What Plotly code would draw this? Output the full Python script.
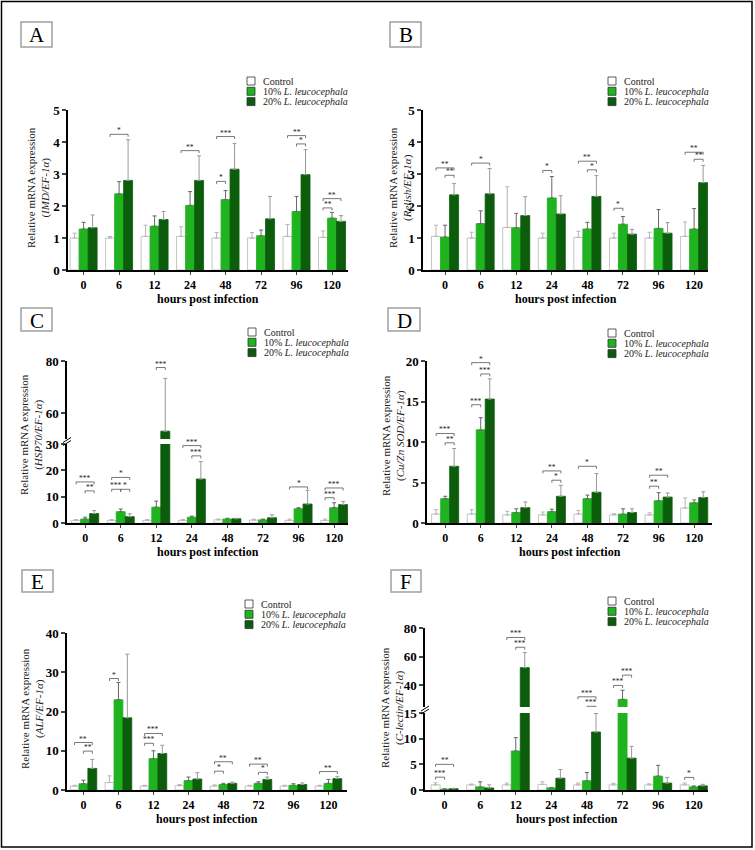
import plotly.graph_objects as go

W, H = 755, 850

hours = ["0", "6", "12", "24", "48", "72", "96", "120"]
groups = ["Control", "10% <i>L. leucocephala</i>", "20% <i>L. leucocephala</i>"]
positions = list(range(len(hours)))

# A: IMD
imd_ctrl = [1.0, 1.0, 1.05, 1.05, 1.0, 1.0, 1.05, 1.02]
imd_ctrl_err = [0.15, 0.05, 0.35, 0.3, 0.17, 0.17, 0.37, 0.2]
imd_10 = [1.28, 2.38, 1.37, 2.02, 2.2, 1.07, 1.83, 1.62]
imd_10_err = [0.21, 0.38, 0.32, 0.43, 0.28, 0.18, 0.47, 0.18]
imd_20 = [1.32, 2.8, 1.58, 2.8, 3.15, 1.6, 2.98, 1.52]
imd_20_err = [0.4, 1.27, 0.25, 0.77, 0.8, 0.7, 0.78, 0.18]

# B: Relish
relish_ctrl = [1.05, 1.0, 1.33, 1.0, 1.02, 1.0, 1.0, 1.05]
relish_ctrl_err = [0.35, 0.18, 1.27, 0.15, 0.19, 0.15, 0.18, 0.45]
relish_10 = [1.03, 1.45, 1.32, 2.25, 1.28, 1.43, 1.3, 1.28]
relish_10_err = [0.37, 0.4, 0.45, 0.67, 0.21, 0.24, 0.59, 0.64]
relish_20 = [2.35, 2.38, 1.7, 1.75, 2.3, 1.12, 1.15, 2.73]
relish_20_err = [0.35, 0.79, 0.59, 0.57, 0.65, 0.15, 0.33, 0.54]

# C: HSP70
hsp_ctrl = [1.0, 1.0, 1.0, 1.0, 1.2, 1.1, 1.0, 1.0]
hsp_ctrl_err = [0.3, 0.3, 0.3, 0.3, 0.3, 0.3, 0.5, 0.5]
hsp_10 = [1.5, 4.3, 6.0, 2.2, 1.5, 1.2, 5.4, 5.8]
hsp_10_err = [0.7, 1.0, 2.3, 0.4, 0.3, 0.3, 0.4, 1.9]
hsp_20 = [3.6, 2.4, 53.0, 16.7, 1.6, 2.0, 7.2, 7.0]
hsp_20_err = [1.1, 1.1, 20.3, 6.6, 0.2, 1.1, 5.2, 1.2]

# D: Cu/Zn SOD
sod_ctrl = [1.1, 1.1, 1.0, 1.0, 1.1, 1.0, 1.0, 1.85]
sod_ctrl_err = [0.55, 0.55, 0.45, 0.35, 0.45, 0.15, 0.25, 1.25]
sod_10 = [3.0, 11.5, 1.3, 1.4, 3.0, 1.1, 2.75, 2.5]
sod_10_err = [0.3, 1.5, 0.45, 0.3, 0.45, 0.65, 1.0, 0.35]
sod_20 = [7.0, 15.3, 1.9, 3.3, 3.8, 1.3, 3.2, 3.15]
sod_20_err = [2.2, 2.5, 0.7, 1.35, 2.3, 0.45, 0.5, 0.7]

# E: ALF
alf_ctrl = [1.0, 1.9, 1.0, 1.1, 1.0, 1.0, 1.0, 1.0]
alf_ctrl_err = [0.2, 1.7, 0.2, 0.3, 0.3, 0.2, 0.2, 0.2]
alf_10 = [1.6, 23.0, 8.0, 2.4, 1.4, 1.7, 1.2, 1.7]
alf_10_err = [0.9, 4.4, 2.0, 0.9, 0.3, 0.4, 0.4, 1.0]
alf_20 = [5.5, 18.4, 9.3, 2.8, 1.7, 2.7, 1.4, 2.9]
alf_20_err = [2.3, 16.2, 2.1, 1.6, 0.3, 0.6, 0.4, 0.5]

# F: C-lectin
lec_ctrl = [1.0, 1.0, 1.0, 1.1, 1.0, 1.0, 1.0, 1.0]
lec_ctrl_err = [0.4, 0.15, 0.35, 0.5, 0.35, 0.3, 0.2, 0.35]
lec_10 = [0.15, 0.6, 7.6, 0.4, 1.8, 30.3, 2.7, 0.6]
lec_10_err = [0.08, 1.0, 2.6, 0.1, 1.6, 6.4, 2.1, 0.2]
lec_20 = [0.25, 0.4, 52.4, 2.3, 11.3, 6.2, 1.35, 0.8]
lec_20_err = [0.08, 0.6, 10.5, 1.7, 3.6, 2.3, 1.1, 0.3]

# significance brackets: (time index, first group, second group, level, stars)
imd_sig = [(1, 0, 2, 4.24, "*"), (3, 0, 2, 3.73, "**"), (4, 0, 1, 2.77, "*"),
           (4, 0, 2, 4.17, "***"), (6, 0, 2, 4.2, "**"), (6, 1, 2, 3.94, "*"),
           (7, 0, 1, 1.94, "**"), (7, 0, 2, 2.23, "**")]
relish_sig = [(0, 0, 2, 3.19, "**"), (0, 1, 2, 2.96, "**"), (1, 0, 2, 3.34, "*"),
              (3, 0, 1, 3.11, "*"), (4, 0, 2, 3.40, "**"), (4, 1, 2, 3.13, "*"),
              (5, 0, 1, 1.93, "*"), (7, 0, 2, 3.68, "**"), (7, 1, 2, 3.46, "**")]
hsp_sig = [(0, 0, 2, 15.6, "***"), (0, 1, 2, 12.2, "**"), (1, 0, 2, 17.3, "*"),
           (1, 0, 1, 12.8, "***"), (1, 1, 2, 12.8, "*"), (2, 0, 2, 81.0, "***"),
           (2, 1, 2, 77.5, "***"), (3, 0, 2, 29.4, "***"), (3, 1, 2, 25.5, "***"),
           (6, 0, 2, 13.7, "*"), (7, 0, 2, 13.3, "***"), (7, 0, 1, 9.6, "***")]
sod_sig = [(0, 0, 2, 11.05, "***"), (0, 1, 2, 9.9, "**"), (1, 0, 2, 19.8, "*"),
           (1, 1, 2, 18.4, "***"), (1, 0, 1, 14.6, "***"), (3, 0, 2, 6.43, "**"),
           (3, 1, 2, 5.28, "*"), (4, 0, 2, 7.0, "*"), (6, 0, 2, 5.9, "**"),
           (6, 0, 1, 4.54, "**")]
alf_sig = [(0, 0, 2, 12.1, "**"), (0, 1, 2, 9.9, "**"), (1, 0, 1, 28.4, "*"),
           (2, 0, 2, 14.4, "***"), (2, 0, 1, 11.9, "***"), (4, 0, 2, 7.2, "**"),
           (4, 0, 1, 4.8, "*"), (5, 0, 2, 6.6, "**"), (5, 1, 2, 4.5, "*"),
           (7, 0, 2, 4.7, "**")]
lec_sig = [(0, 0, 2, 5.0, "**"), (0, 0, 1, 2.5, "***"), (2, 0, 2, 73.4, "***"),
           (2, 1, 2, 66.6, "***"), (4, 0, 2, 32.1, "***"), (4, 1, 2, 25.5, "***"),
           (5, 0, 1, 40.0, "***"), (5, 1, 2, 47.2, "***"), (7, 0, 1, 2.45, "*")]

panels = [
    dict(tag="A", gene="IMD/EF-1α", sig=imd_sig,
         means=[imd_ctrl, imd_10, imd_20], errs=[imd_ctrl_err, imd_10_err, imd_20_err],
         low=(0, 5), low_ticks=[0, 1, 2, 3, 4, 5], up=None, up_ticks=None),
    dict(tag="B", gene="Relish/EF-1α", sig=relish_sig,
         means=[relish_ctrl, relish_10, relish_20],
         errs=[relish_ctrl_err, relish_10_err, relish_20_err],
         low=(0, 5), low_ticks=[0, 1, 2, 3, 4, 5], up=None, up_ticks=None),
    dict(tag="C", gene="HSP70/EF-1α", sig=hsp_sig,
         means=[hsp_ctrl, hsp_10, hsp_20], errs=[hsp_ctrl_err, hsp_10_err, hsp_20_err],
         low=(0, 30), low_ticks=[0, 10, 20, 30], up=(50, 80), up_ticks=[60, 80]),
    dict(tag="D", gene="Cu/Zn SOD/EF-1α", sig=sod_sig,
         means=[sod_ctrl, sod_10, sod_20], errs=[sod_ctrl_err, sod_10_err, sod_20_err],
         low=(0, 20), low_ticks=[0, 5, 10, 15, 20], up=None, up_ticks=None),
    dict(tag="E", gene="ALF/EF-1α", sig=alf_sig,
         means=[alf_ctrl, alf_10, alf_20], errs=[alf_ctrl_err, alf_10_err, alf_20_err],
         low=(0, 40), low_ticks=[0, 10, 20, 30, 40], up=None, up_ticks=None),
    dict(tag="F", gene="C-lectin/EF-1α", sig=lec_sig,
         means=[lec_ctrl, lec_10, lec_20], errs=[lec_ctrl_err, lec_10_err, lec_20_err],
         low=(0, 15), low_ticks=[0, 5, 10, 15], up=(25, 80), up_ticks=[40, 60, 80]),
]

# pixel geometry of each panel
GEOM = {
    "A": dict(x=(68, 348), xr=(-0.44, 7.45), low=(270, 110), up=None,
              box=(21, 22, 52, 47), leg=(247, 81), ytitle=(38, 188)),
    "B": dict(x=(423, 708), xr=(-0.62, 7.39), low=(270, 110), up=None,
              box=(390, 22, 421, 47), leg=(608, 81), ytitle=(400, 188)),
    "C": dict(x=(67, 348), xr=(-0.51, 7.39), low=(523, 444), up=(439, 361),
              box=(21, 308, 52, 331), leg=(248, 332), ytitle=(31, 434)),
    "D": dict(x=(427, 712), xr=(-0.51, 7.5), low=(523, 361), up=None,
              box=(388, 308, 420, 331), leg=(608, 333), ytitle=(393, 436)),
    "E": dict(x=(67, 347), xr=(-0.47, 7.53), low=(790, 633), up=None,
              box=(22, 570, 53, 592), leg=(245, 604), ytitle=(32, 709)),
    "F": dict(x=(425, 708), xr=(-0.55, 7.4), low=(790, 713), up=(707, 628),
              box=(391, 570, 421, 592), leg=(608, 601), ytitle=(392, 708)),
}

BARGAP = 0.24
FILL = ["#ffffff", "#20b320", "#0b5c0b"]
EDGE = ["#b5b5b5", "#20b320", "#0b5c0b"]
ERRC = ["#b5b5b5", "#666666", "#999999"]
SERIF = "Liberation Serif, Times New Roman, serif"


def ref(prefix, i):
    return prefix if i == 1 else f"{prefix}{i}"


def key(prefix, i):
    return f"{prefix}axis" if i == 1 else f"{prefix}axis{i}"


def note(px, py, text, size, **kw):
    # text placed at a pixel position of the page
    d = dict(x=px / W, y=1 - py / H, xref="paper", yref="paper", showarrow=False,
             xanchor="center", yanchor="middle", text=text,
             font=dict(family=SERIF, size=size, color=kw.pop("color", "black")))
    d.update(kw)
    return d


fig = go.Figure()
layout = {}
shapes = []
annotations = []
off = (1 - BARGAP) / 3
xi = yi = 0

for p in panels:
    g = GEOM[p["tag"]]
    xi += 1
    xid = ref("x", xi)
    subs = []
    yi += 1
    subs.append((yi, p["low"], g["low"], p["low_ticks"]))
    if p["up"]:
        yi += 1
        subs.append((yi, p["up"], g["up"], p["up_ticks"]))
    low_id = ref("y", subs[0][0])

    layout[key("x", xi)] = dict(
        domain=[g["x"][0] / W, g["x"][1] / W], range=list(g["xr"]), anchor=low_id,
        tickvals=positions, ticktext=hours, showline=True, linecolor="black",
        linewidth=1.5, ticks="outside", ticklen=3, tickwidth=1.2, showgrid=False,
        zeroline=False, automargin=False,
        tickfont=dict(family=SERIF, size=12, color="black", weight="bold"),
    )

    for n, (yn, rng, (pb, pt), ticks) in enumerate(subs):
        yid = ref("y", yn)
        layout[key("y", yn)] = dict(
            domain=[1 - pb / H, 1 - pt / H], range=list(rng), anchor=xid,
            tickvals=ticks, showline=True, linecolor="black", linewidth=1.5,
            ticks="outside", ticklen=4, tickwidth=1.5, showgrid=False, zeroline=False,
            automargin=False,
            tickfont=dict(family=SERIF, size=13, color="black", weight="bold"),
        )
        for s in range(3):
            fig.add_trace(go.Bar(
                x=positions, y=p["means"][s], xaxis=xid, yaxis=yid,
                name=groups[s], showlegend=False, hoverinfo="skip",
                marker=dict(color=FILL[s], line=dict(color=EDGE[s], width=0.8)),
                error_y=dict(type="data", symmetric=False, array=p["errs"][s],
                             arrayminus=[0] * len(positions), color=ERRC[s],
                             thickness=1, width=2),
            ))

        # significance brackets drawn on this segment
        per_px = (rng[1] - rng[0]) / (pb - pt)
        drop = 2.5 * per_px
        bx, by = [], []
        for t, a, b, lvl, stars in p["sig"]:
            on_upper = p["up"] is not None and lvl > p["low"][1]
            if on_upper != (n == 1):
                continue
            x1 = t + (a - 1) * off
            x2 = t + (b - 1) * off
            bx += [x1, x1, x2, x2, None]
            by += [lvl - drop, lvl, lvl, lvl - drop, None]
            annotations.append(dict(
                x=(x1 + x2) / 2, y=lvl, xref=xid, yref=yid, text=stars,
                showarrow=False, xanchor="center", yanchor="bottom", yshift=-3,
                font=dict(family=SERIF, size=7.5, color="#222"),
            ))
        if bx:
            fig.add_trace(go.Scatter(
                x=bx, y=by, xaxis=xid, yaxis=yid, mode="lines", cliponaxis=False,
                line=dict(color="#555", width=0.8), showlegend=False, hoverinfo="skip",
            ))

    # axis break marks
    if g["up"]:
        xb = g["x"][0]
        yb = (g["low"][1] + g["up"][0]) / 2
        for dy in (-1.5, 1.5):
            shapes.append(dict(type="line", xref="paper", yref="paper",
                               x0=(xb - 4) / W, x1=(xb + 4) / W,
                               y0=1 - (yb + 2.5 + dy) / H, y1=1 - (yb - 2.5 + dy) / H,
                               line=dict(color="black", width=1)))

    cx = (g["x"][0] + g["x"][1]) / 2
    annotations.append(note(cx, g["low"][0] + 28.5, "<b>hours post infection</b>", 12))
    annotations.append(note(g["ytitle"][0], g["ytitle"][1],
                            f"Relative mRNA expression<br>(<i>{p['gene']}</i>)", 11,
                            textangle=-90, color="#222"))

    # panel letter box
    x0, y0, x1, y1 = g["box"]
    shapes.append(dict(type="rect", xref="paper", yref="paper",
                       x0=x0 / W, x1=x1 / W, y0=1 - y1 / H, y1=1 - y0 / H,
                       line=dict(color="#a0a0a0", width=1.5), fillcolor="white"))
    annotations.append(note((x0 + x1) / 2, (y0 + y1) / 2 + 1, p["tag"], 21))

    # legend
    lx, ly = g["leg"]
    for s in range(3):
        cy = ly + s * 10.3
        shapes.append(dict(type="rect", xref="paper", yref="paper",
                           x0=lx / W, x1=(lx + 8) / W, y0=1 - (cy + 4) / H, y1=1 - (cy - 4) / H,
                           line=dict(color="#333", width=0.8), fillcolor=FILL[s]))
        annotations.append(note(lx + 14, cy, groups[s], 10, xanchor="left", color="#222"))

# outer frame
shapes.append(dict(type="rect", xref="paper", yref="paper", x0=1.5 / W, x1=752 / W,
                   y0=1 - 847 / H, y1=1 - 1.5 / H, line=dict(color="black", width=1.5)))

fig.update_layout(
    width=W, height=H, margin=dict(l=0, r=0, t=0, b=0, autoexpand=False),
    paper_bgcolor="white", plot_bgcolor="white",
    barmode="group", bargap=BARGAP, bargroupgap=0,
    showlegend=False, hovermode=False,
    shapes=shapes, annotations=annotations, **layout,
)

fig.write_html("out.html", config={"displayModeBar": False},
               post_script="document.body.style.margin = '0px';")
